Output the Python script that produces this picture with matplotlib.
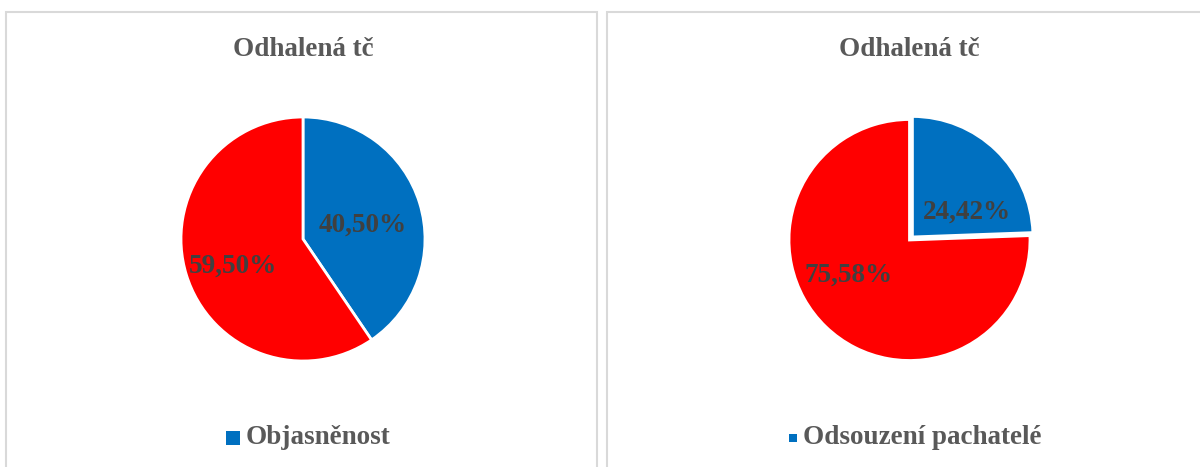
import matplotlib
matplotlib.use("Agg")
import matplotlib.pyplot as plt
from matplotlib.patches import Rectangle
import numpy as np

# Data
titles = ["Odhalená tč", "Odhalená tč"]
left_labels = ["Objasněnost", "Neobjasněno"]
left_values = [40.50, 59.50]
right_labels = ["Odsouzení pachatelé", "Ostatní"]
right_values = [24.42, 75.58]

BLUE = "#0070C0"
RED = "#FF0000"
TXT = "#595959"
LBL = "#404040"
FONT = "Liberation Serif"

W, H = 1200, 467
fig = plt.figure(figsize=(W / 100, H / 100), dpi=100)
fig.patch.set_facecolor("white")


def fx(px):
    return px / W


def fy(py):
    return 1 - py / H


# panel borders
for x0, x1 in [(6, 597), (607, 1215)]:
    fig.patches.append(Rectangle((fx(x0), fy(480)), fx(x1 - x0), (480 - 12) / H,
                                 transform=fig.transFigure, fill=False,
                                 edgecolor="#D9D9D9", linewidth=1.5))


def fmt(v):
    return f"{v:.2f}".replace(".", ",") + "%"


def draw_pie(cx, cy, r, values, explode, pctd, title, legend_label, sq, legend_x):
    ax = fig.add_axes([fx(cx - r), fy(cy + r), fx(2 * r), 2 * r / H])
    wedges, _ = ax.pie(values, colors=[BLUE, RED], startangle=90, counterclock=False,
                       explode=explode, radius=1,
                       wedgeprops=dict(edgecolor="white", linewidth=2))
    total = sum(values)
    ang = 90.0
    yfix = -3.0 / r
    for v, d in zip(values, pctd):
        span = 360 * v / total
        mid = np.deg2rad(ang - span / 2 + d[1])
        ax.text(d[0] * np.cos(mid), d[0] * np.sin(mid) + yfix,
                fmt(v), ha="center", va="center", fontsize=19.5, fontweight="bold",
                family=FONT, color=LBL)
        ang -= span
    ax.set_xlim(-1, 1)
    ax.set_ylim(-1, 1)
    ax.set_aspect("equal")
    ax.axis("off")
    for w in wedges:
        w.set_clip_on(False)
    fig.text(fx(cx), fy(50), title, ha="center", va="center", fontsize=19.5,
             fontweight="bold", family=FONT, color=TXT)
    # legend
    sx = legend_x
    fig.patches.append(Rectangle((fx(sx), fy(438 + sq / 2)), fx(sq), sq / H,
                                 transform=fig.transFigure, facecolor=BLUE, edgecolor="none"))
    fig.text(fx(sx + sq + 6), fy(438), legend_label, ha="left", va="center",
             fontsize=19.5, fontweight="bold", family=FONT, color=TXT)


draw_pie(303, 239, 122, left_values, [0, 0], [(0.51, -1), (0.61, 1.5)],
         titles[0], left_labels[0], 14, 226)
draw_pie(909.5, 240, 120.5, right_values, [0.035, 0], [(0.54, -18), (0.57, -18)],
         titles[1], right_labels[0], 8, 789)

fig.savefig("out.png", dpi=100, facecolor="white")
